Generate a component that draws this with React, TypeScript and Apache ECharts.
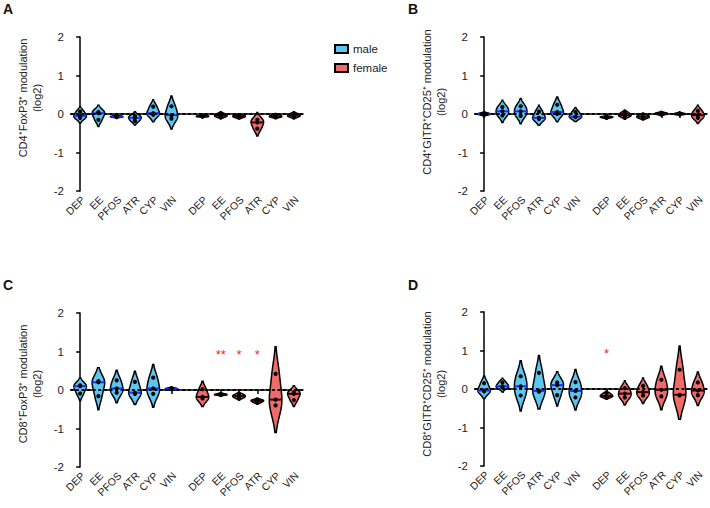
import React, { useEffect, useRef } from 'react';
import * as echarts from 'echarts';

const DRUGS = ['DEP', 'EE', 'PFOS', 'ATR', 'CYP', 'VIN'];
const MALE_X = [0, 1, 2, 3, 4, 5];
const FEMALE_X = [6.7, 7.7, 8.7, 9.7, 10.7, 11.7];

// three replicate values (log2 modulation) per violin
const A_MALE = [[0.06, -0.05, -0.1], [0.05, 0.02, -0.15], [-0.05, -0.07, -0.08], [-0.05, -0.1, -0.18], [0.19, 0.02, -0.02], [0.2, -0.03, -0.12]];
const A_FEMALE = [[-0.05, -0.06, -0.07], [0.0, -0.04, -0.07], [-0.04, -0.06, -0.09], [-0.15, -0.22, -0.38], [-0.03, -0.06, -0.08], [0.0, -0.04, -0.07]];
const B_MALE = [[0.02, 0.0, -0.02], [0.18, 0.07, -0.04], [0.2, 0.07, -0.05], [0.06, -0.1, -0.13], [0.24, 0.05, 0.0], [0.05, -0.07, -0.08]];
const B_FEMALE = [[-0.07, -0.08, -0.1], [0.03, -0.03, -0.06], [-0.03, -0.07, -0.1], [0.03, 0.01, -0.01], [0.02, 0.0, -0.01], [0.08, -0.03, -0.1]];
const C_MALE = [[0.12, 0.1, -0.09], [0.23, 0.2, -0.16], [0.25, 0.04, -0.07], [0.21, -0.07, -0.1], [0.32, 0.04, -0.1], [0.05, 0.03, 0.02]];
const C_FEMALE = [[0.02, -0.18, -0.22], [-0.1, -0.12, -0.13], [-0.12, -0.16, -0.2], [-0.26, -0.28, -0.32], [0.42, -0.25, -0.4], [-0.06, -0.1, -0.26]];
const D_MALE = [[0.15, -0.04, -0.06], [0.17, 0.07, 0.04], [0.33, 0.07, -0.17], [0.42, -0.05, -0.07], [0.17, 0.1, -0.16], [0.18, -0.05, -0.22]];
const D_FEMALE = [[-0.12, -0.18, -0.2], [0.02, -0.12, -0.22], [0.08, -0.08, -0.17], [0.24, -0.02, -0.19], [0.5, -0.15, -0.17], [0.17, -0.04, -0.16]];

const C_FEMALE_SIG = ['', '**', '*', '*', '', ''];
const D_FEMALE_SIG = ['*', '', '', '', '', ''];
const SIG_Y = 1;

const PANEL_LABELS = ['A', 'B', 'C', 'D'];
const Y_TITLES = [
  'CD4⁺FoxP3⁺ modulation\n(log2)',
  'CD4⁺GITR⁺CD25⁺ modulation\n(log2)',
  'CD8⁺FoxP3⁺ modulation\n(log2)',
  'CD8⁺GITR⁺CD25⁺ modulation\n(log2)',
];

const MALE_FILL = '#5cc6f0';
const FEMALE_FILL = '#f06a6a';
const FONT = 'Arial, "Liberation Sans", Helvetica, sans-serif';
const HALF_W = 6.3;
const X_MIN = -0.5;
const X_MAX = 12.2;
const Y_MIN = -2;

const XPOS = [...MALE_X, ...FEMALE_X];
const XLABELS = [...DRUGS, ...DRUGS];

function violinRenderer(fill: string, medColor: string) {
  return (params: any, api: any) => {
    const x = api.value(0);
    const pts = [api.value(1), api.value(2), api.value(3)].map(Number);
    const n = pts.length;
    const mean = pts.reduce((a, b) => a + b, 0) / n;
    const sd = Math.sqrt(pts.reduce((a, b) => a + (b - mean) * (b - mean), 0) / (n - 1));
    const bw = Math.max(0.85 * sd, 0.006);
    const lo = Math.min(...pts) - 1.9 * bw;
    const hi = Math.max(...pts) + 1.9 * bw;
    const dens = (y: number) => pts.reduce((s, p) => s + Math.exp(-0.5 * ((y - p) / bw) ** 2), 0);
    const N = 90;
    const samples: number[][] = [];
    let fmax = 0;
    for (let i = 0; i <= N; i++) {
      const y = hi - ((hi - lo) * i) / N;
      const d = dens(y);
      samples.push([y, d]);
      if (d > fmax) fmax = d;
    }
    pts.forEach((p) => { const d = dens(p); if (d > fmax) fmax = d; });
    const right: number[][] = [];
    const left: number[][] = [];
    samples.forEach(([y, d]) => {
      const c = api.coord([x, y]);
      const w = (d / fmax) * HALF_W;
      right.push([c[0] + w, c[1]]);
      left.unshift([c[0] - w, c[1]]);
    });
    const sorted = [...pts].sort((a, b) => a - b);
    const med = sorted[1];
    const cm = api.coord([x, med]);
    const wm = (dens(med) / fmax) * HALF_W;
    const children: any[] = [
      {
        type: 'polygon',
        shape: { points: right.concat(left) },
        style: { fill, stroke: '#000', lineWidth: 1.5 },
      },
      {
        type: 'line',
        shape: { x1: cm[0] - wm, y1: cm[1], x2: cm[0] + wm, y2: cm[1] },
        style: { stroke: medColor, lineWidth: 2 },
      },
    ];
    pts.forEach((p) => {
      const c = api.coord([x, p]);
      children.push({ type: 'circle', shape: { cx: c[0], cy: c[1], r: 2.1 }, style: { fill: '#000' } });
    });
    return { type: 'group', children };
  };
}

const SIG_TEXTS: Record<string, string[]> = {};

function sigRenderer() {
  return (params: any, api: any) => {
    const c = api.coord([api.value(0), api.value(1)]);
    const text = SIG_TEXTS[params.seriesName]?.[params.dataIndex] ?? '';
    return {
      type: 'text',
      x: c[0],
      y: c[1] + 3,
      style: { text, fill: '#f02828', font: `13px ${FONT}`, align: 'center', verticalAlign: 'middle' },
    };
  };
}

function xLabelRenderer() {
  return (params: any, api: any) => {
    const c = api.coord([api.value(0), api.value(1)]);
    return {
      type: 'text',
      x: c[0] + 3,
      y: c[1] + 7,
      rotation: Math.PI / 4,
      style: {
        text: XLABELS[params.dataIndex],
        fill: '#222',
        font: `10.5px ${FONT}`,
        align: 'right',
        verticalAlign: 'middle',
      },
    };
  };
}

export default function App() {
  const ref = useRef<HTMLDivElement>(null);
  useEffect(() => {
    document.body.style.margin = '0';
    if (!ref.current) return;
    const chart = echarts.init(ref.current, undefined, { renderer: 'svg' });

    const grids = [
      { left: 71, top: 37, width: 232, height: 154 },
      { left: 475, top: 37, width: 232, height: 154 },
      { left: 71, top: 313, width: 232, height: 154 },
      { left: 475, top: 312, width: 232, height: 154 },
    ];
    const panels = [
      [A_MALE, A_FEMALE],
      [B_MALE, B_FEMALE],
      [C_MALE, C_FEMALE],
      [D_MALE, D_FEMALE],
    ];
    const sigs: (string[] | null)[] = [null, null, C_FEMALE_SIG, D_FEMALE_SIG];
    const titlePos = [[30, 98], [434, 102], [30, 384], [434, 384]];

    const axisLine = { show: true, lineStyle: { color: '#000', width: 1.5 } };
    const xAxis = grids.map((_, i) => ({
      type: 'value',
      gridIndex: i,
      min: X_MIN,
      max: X_MAX,
      axisLine,
      splitLine: { show: false },
      axisTick: { show: true, customValues: XPOS, length: 4, lineStyle: { color: '#000', width: 1.5 } },
      axisLabel: { show: false },
    }));
    const yAxis = grids.map((_, i) => ({
      type: 'value',
      gridIndex: i,
      min: -2,
      max: 2,
      interval: 1,
      axisLine,
      splitLine: { show: false },
      axisTick: { show: true, length: 4, lineStyle: { color: '#000', width: 1.5 } },
      axisLabel: { fontSize: 11.5, color: '#222', fontFamily: FONT, margin: 7 },
    }));

    const series: any[] = [];
    panels.forEach(([male, female], i) => {
      series.push({
        type: 'line',
        name: 'zero' + i,
        xAxisIndex: i,
        yAxisIndex: i,
        data: [],
        z: 1,
        markLine: {
          silent: true,
          symbol: 'none',
          label: { show: false },
          lineStyle: { color: '#000', type: [1.6, 4], width: 1.8, cap: 'round' },
          data: [{ yAxis: 0 }],
        },
      });
      series.push({
        type: 'custom',
        name: 'male',
        xAxisIndex: i,
        yAxisIndex: i,
        itemStyle: { color: MALE_FILL, borderColor: '#000', borderWidth: 1.2 },
        renderItem: violinRenderer(MALE_FILL, '#1530ff'),
        encode: { x: 0, y: [1, 2, 3] },
        data: MALE_X.map((x, k) => [x, ...male[k]]),
        z: 3,
      });
      series.push({
        type: 'custom',
        name: 'female',
        xAxisIndex: i,
        yAxisIndex: i,
        itemStyle: { color: FEMALE_FILL, borderColor: '#000', borderWidth: 1.2 },
        renderItem: violinRenderer(FEMALE_FILL, '#300000'),
        encode: { x: 0, y: [1, 2, 3] },
        data: FEMALE_X.map((x, k) => [x, ...female[k]]),
        z: 3,
      });
      series.push({
        type: 'custom',
        name: 'xlabels' + i,
        xAxisIndex: i,
        yAxisIndex: i,
        silent: true,
        clip: false,
        renderItem: xLabelRenderer(),
        encode: { x: 0, y: 1 },
        data: XPOS.map((x) => [x, Y_MIN]),
        z: 4,
      });
      const sig = sigs[i];
      if (sig) {
        const name = 'sig' + i;
        SIG_TEXTS[name] = sig;
        series.push({
          type: 'custom',
          name,
          xAxisIndex: i,
          yAxisIndex: i,
          renderItem: sigRenderer(),
          encode: { x: 0, y: 1 },
          data: FEMALE_X.map((x) => [x, SIG_Y]),
          z: 4,
        });
      }
    });

    const option: any = {
      animation: false,
      backgroundColor: '#fff',
      grid: grids,
      xAxis,
      yAxis,
      legend: {
        data: ['male', 'female'],
        orient: 'vertical',
        left: 329,
        top: 38,
        icon: 'rect',
        itemWidth: 13,
        itemHeight: 8,
        itemGap: 7,
        textStyle: { fontSize: 11.5, color: '#222', fontFamily: FONT },
      },
      graphic: [
        ...PANEL_LABELS.map((t, i) => ({
          type: 'text',
          left: [3, 408, 3, 408][i],
          top: [2, 2, 278, 278][i],
          style: { text: t, font: `bold 14px ${FONT}`, fill: '#111' },
        })),
        ...Y_TITLES.map((t, i) => ({
          type: 'text',
          x: titlePos[i][0],
          y: titlePos[i][1],
          rotation: Math.PI / 2,
          style: {
            text: t,
            font: `11px ${FONT}`,
            lineHeight: 14,
            fill: '#222',
            align: 'center',
            verticalAlign: 'middle',
          },
        })),
      ],
      series,
    };
    chart.setOption(option);
    return () => chart.dispose();
  }, []);
  return <div ref={ref} style={{ width: 710, height: 508 }} />;
}
